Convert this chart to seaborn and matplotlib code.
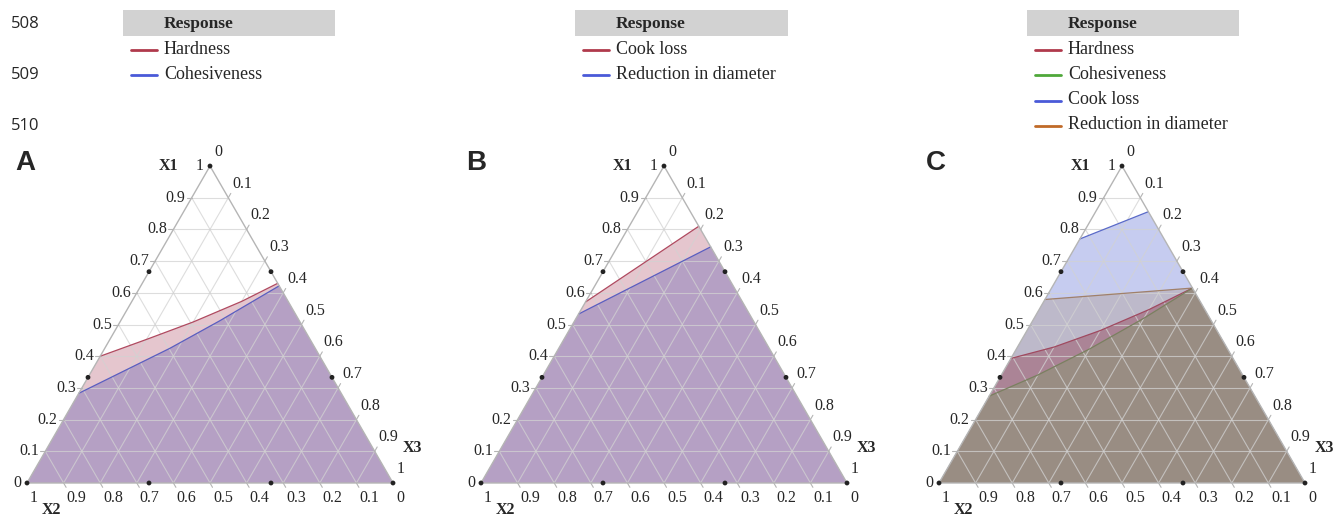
import numpy as np
import pandas as pd
import matplotlib
matplotlib.use("Agg")
import matplotlib.pyplot as plt
import seaborn as sns
from matplotlib.patches import Rectangle

sns.set_style("white")
plt.rcParams['font.family'] = ['Liberation Serif', 'DejaVu Serif']

# ---------------- data ----------------
tick_values = [0.0, 0.1, 0.2, 0.3, 0.4, 0.5, 0.6, 0.7, 0.8, 0.9, 1.0]
tick_labels = ["0", "0.1", "0.2", "0.3", "0.4", "0.5", "0.6", "0.7", "0.8", "0.9", "1"]

# mixture design points (X1, X2, X3)
design_x1 = [1, 0, 0, 2/3, 1/3, 2/3, 1/3, 0, 0]
design_x2 = [0, 1, 0, 1/3, 2/3, 0, 0, 2/3, 1/3]
design_x3 = [0, 0, 1, 0, 0, 1/3, 2/3, 1/3, 2/3]

# Panel A boundaries (X1, X3 along each contour; region lies below)
a_hardness_x1 = [0.400, 0.453, 0.508, 0.573, 0.630]
a_hardness_x3 = [0.000, 0.100, 0.200, 0.300, 0.370]
a_cohesiveness_x1 = [0.283, 0.425, 0.512, 0.622]
a_cohesiveness_x3 = [0.000, 0.178, 0.271, 0.378]

# Panel B boundaries
b_cookloss_x1 = [0.571, 0.810]
b_cookloss_x3 = [0.000, 0.190]
b_reduction_x1 = [0.533, 0.745]
b_reduction_x3 = [0.000, 0.255]

# Panel C boundaries
c_cookloss_x1 = [0.770, 0.856]
c_cookloss_x3 = [0.000, 0.144]
c_reduction_x1 = [0.579, 0.615]
c_reduction_x3 = [0.000, 0.385]
c_hardness_x1 = [0.393, 0.429, 0.481, 0.547, 0.615]
c_hardness_x3 = [0.000, 0.100, 0.200, 0.300, 0.385]
c_cohesiveness_x1 = [0.274, 0.341, 0.423, 0.520, 0.615]
c_cohesiveness_x3 = [0.000, 0.100, 0.200, 0.300, 0.385]

legend_a = ["Hardness", "Cohesiveness"]
legend_b = ["Cook loss", "Reduction in diameter"]
legend_c = ["Hardness", "Cohesiveness", "Cook loss", "Reduction in diameter"]
line_numbers = ["508", "509", "510"]
panel_letters = ["A", "B", "C"]

# ---------------- styling ----------------
RED, BLUE, GREEN, ORANGE = "#b03a4c", "#4a5ad8", "#4fa83a", "#c06a28"
PINK_FILL, PURPLE_FILL = "#e5c6ce", "#b5a0c4"
C_BLUE_FILL, C_LAV_FILL, C_MAUVE_FILL, C_BROWN_FILL = "#c6ccf0", "#bdb9ca", "#ab8496", "#998d83"

S = np.sqrt(3) / 2
W, H = 1344, 517
SIDE = 366.0          # triangle side in pixels
PX = 1.0 / SIDE       # one pixel in data units


def tern(x1, x3):
    x1 = np.asarray(x1, float)
    x3 = np.asarray(x3, float)
    return x3 + x1 / 2, x1 * S


fig = plt.figure(figsize=(W / 100, H / 100), dpi=100)
fig.patch.set_facecolor("white")

# overlay axes (pixel coordinates) for legends / labels
ov = fig.add_axes([0, 0, 1, 1])
ov.set_xlim(0, W)
ov.set_ylim(H, 0)
ov.axis("off")

panel_left_px = [27, 481, 939]
tri_bottom_px = 483


def draw_panel(left_px, regions, boundaries):
    ax = fig.add_axes([left_px / W, (H - tri_bottom_px) / H, SIDE / W, SIDE * S / H])
    ax.set_xlim(0, 1)
    ax.set_ylim(0, S)
    ax.axis("off")
    # filled regions
    for (bx1, bx3, col) in regions:
        px, py = tern(bx1, bx3)
        brx, bry = tern(0, 1)
        blx, bly = tern(0, 0)
        ax.fill(np.r_[px, brx, blx], np.r_[py, bry, bly], color=col, lw=0, zorder=1)
    # grid
    for k in tick_values[1:-1]:
        for (xa, ya), (xb, yb) in [
            (tern(k, 0), tern(k, 1 - k)),
            (tern(0, k), tern(1 - k, k)),
            (tern(0, 1 - k), tern(1 - k, 0)),
        ]:
            ax.plot([xa, xb], [ya, yb], color="#d2d2d2", lw=0.8, alpha=0.75, zorder=2)
    # boundaries
    for (bx1, bx3, col) in boundaries:
        px, py = tern(bx1, bx3)
        sns.lineplot(x=px, y=py, sort=False, estimator=None, color=col, lw=0.9,
                     ax=ax, zorder=3, legend=False)
    # outline
    ox, oy = tern([1, 0, 0, 1], [0, 0, 1, 0])
    ax.plot(ox, oy, color="#b5b5b5", lw=1.0, zorder=3, clip_on=False)
    tl = 5 * PX
    for k, lab in zip(tick_values, tick_labels):
        # left edge: X1
        x, y = tern(k, 0)
        if 0 < k < 1:
            ax.plot([x, x - tl], [y, y], color="#b5b5b5", lw=0.8, clip_on=False)
        ax.text(x - 6 * PX, y, lab, ha="right", va="center", fontsize=11.5)
        # right edge: X3
        x, y = tern(1 - k, k)
        if 0 < k < 1:
            ax.plot([x, x + 0.5 * tl], [y, y + S * tl], color="#b5b5b5", lw=0.8, clip_on=False)
        ax.text(x + 4 * PX, y + 14 * PX, lab, ha="left", va="center", fontsize=11.5)
        # bottom edge: X2
        x, y = tern(0, 1 - k)
        if 0 < k < 1:
            ax.plot([x, x + 0.5 * tl], [y, y - S * tl], color="#b5b5b5", lw=0.8, clip_on=False)
        ax.text(x + 3 * PX, y - 7 * PX, lab, ha="left", va="top", fontsize=11.5)
    # design points
    dx, dy = tern(design_x1, design_x3)
    sns.scatterplot(x=dx, y=dy, color="#222222", s=12, edgecolor="none", ax=ax,
                    zorder=5, clip_on=False, legend=False)
    # axis titles
    tx, ty = tern(1, 0)
    ax.text(tx - 32 * PX, ty, "X1", ha="right", va="center", fontsize=11.5, fontweight="bold")
    tx, ty = tern(0, 0)
    ax.text(tx + 15 * PX, ty - 27 * PX, "X2", ha="left", va="center", fontsize=11.5, fontweight="bold")
    tx, ty = tern(0, 1)
    ax.text(tx + 10 * PX, ty + 35 * PX, "X3", ha="left", va="center", fontsize=11.5, fontweight="bold")
    return ax


draw_panel(panel_left_px[0],
           [(a_hardness_x1, a_hardness_x3, PINK_FILL),
            (a_cohesiveness_x1, a_cohesiveness_x3, PURPLE_FILL)],
           [(a_hardness_x1, a_hardness_x3, "#b04a60"),
            (a_cohesiveness_x1, a_cohesiveness_x3, "#5a5ec0")])
draw_panel(panel_left_px[1],
           [(b_cookloss_x1, b_cookloss_x3, PINK_FILL),
            (b_reduction_x1, b_reduction_x3, PURPLE_FILL)],
           [(b_cookloss_x1, b_cookloss_x3, "#b04a60"),
            (b_reduction_x1, b_reduction_x3, "#5a5ec0")])
draw_panel(panel_left_px[2],
           [(c_cookloss_x1, c_cookloss_x3, C_BLUE_FILL),
            (c_reduction_x1, c_reduction_x3, C_LAV_FILL),
            (c_hardness_x1, c_hardness_x3, C_MAUVE_FILL),
            (c_cohesiveness_x1, c_cohesiveness_x3, C_BROWN_FILL)],
           [(c_cookloss_x1, c_cookloss_x3, "#5a6ac8"),
            (c_reduction_x1, c_reduction_x3, "#a0806a"),
            (c_hardness_x1, c_hardness_x3, "#a04a60"),
            (c_cohesiveness_x1, c_cohesiveness_x3, "#7a8060")])

# legends
legend_boxes = [(123, 335, legend_a, [RED, BLUE]),
                (575, 788, legend_b, [RED, BLUE]),
                (1027, 1239, legend_c, [RED, GREEN, BLUE, ORANGE])]
for (x0, x1, items, cols) in legend_boxes:
    ov.add_patch(Rectangle((x0, 10), x1 - x0, 26, color="#d2d2d2", lw=0))
    ov.text(x0 + 41, 24, "Response", ha="left", va="center", fontsize=12.5, fontweight="bold")
    for i, (lab, col) in enumerate(zip(items, cols)):
        yy = 50 + 25.3 * i
        ov.plot([x0 + 8, x0 + 34], [yy, yy], color=col, lw=2)
        ov.text(x0 + 41, yy - 1, lab, ha="left", va="center", fontsize=13)

for lab, yy in zip(line_numbers, [24, 75, 126]):
    ov.text(11, yy, lab, ha="left", va="center", fontsize=12, family=["Open Sans", "DejaVu Sans"])

for lab, xx in zip(panel_letters, [15, 466, 926]):
    ov.text(xx, 170, lab, ha="left", va="baseline", fontsize=20, fontweight="bold",
            family=["Liberation Sans", "DejaVu Sans"])

fig.savefig("out.png", dpi=100, facecolor="white")
